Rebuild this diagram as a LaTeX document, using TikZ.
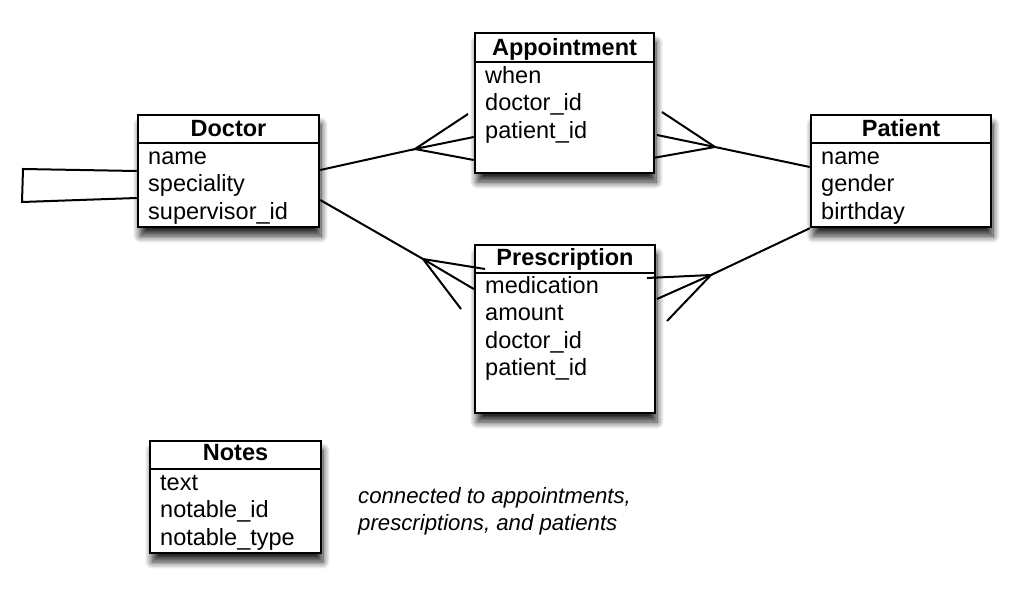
\documentclass[tikz,border=0pt]{standalone}
\usepackage{fontspec}
\setmainfont{Liberation Sans}
\usetikzlibrary{shadows.blur}
\tikzset{
 entity/.style={draw=black, line width=2.5pt, fill=white, inner sep=0pt,
   blur shadow={shadow xshift=2pt, shadow yshift=-9pt, shadow blur radius=7pt, shadow blur steps=10, shadow opacity=85}},
 etitle/.style={anchor=base, inner sep=0pt, font=\fontsize{23.5}{27.5}\selectfont\bfseries},
 field/.style={anchor=base west, inner sep=0pt, font=\fontsize{23.5}{27.5}\selectfont},
 note/.style={anchor=base west, inner sep=0pt, font=\fontsize{22.2}{27.5}\selectfont\itshape},
 rel/.style={line width=2pt},
 hrule/.style={line width=2.2pt},
}
\begin{document}
\begin{tikzpicture}[x=1pt,y=-1pt]
\useasboundingbox (0,0) rectangle (1030,600);

% entity boxes
\node[entity, minimum width=181pt, minimum height=112pt] (doctor) at (228.5,171) {};
\node[entity, minimum width=179pt, minimum height=140pt] (appt) at (564.5,103) {};
\node[entity, minimum width=180pt, minimum height=112pt] (patient) at (901,171) {};
\node[entity, minimum width=180pt, minimum height=168pt] (presc) at (565,329) {};
\node[entity, minimum width=171pt, minimum height=112pt] (notes) at (235.5,497) {};

% header rules
\draw[hrule] (doctor.west |- 0,143) -- (doctor.east |- 0,143);
\draw[hrule] (appt.west |- 0,62) -- (appt.east |- 0,62);
\draw[hrule] (patient.west |- 0,143) -- (patient.east |- 0,143);
\draw[hrule] (presc.west |- 0,273) -- (presc.east |- 0,273);
\draw[hrule] (notes.west |- 0,469) -- (notes.east |- 0,469);

% titles
\node[etitle] (doctorT) at (228.5,136) {Doctor};
\node[etitle] (apptT) at (564.5,55) {Appointment};
\node[etitle] (patientT) at (901,136) {Patient};
\node[etitle] (prescT) at (565,265) {Prescription};
\node[etitle] (notesT) at (235.5,460) {Notes};

% fields
\node[field] (d1) at (148,164) {name};
\node[field] (d2) at (148,191.5) {speciality};
\node[field] (d3) at (148,219) {supervisor\_id};

\node[field] (a1) at (485,83) {when};
\node[field] (a2) at (485,110.5) {doctor\_id};
\node[field] (a3) at (485,138) {patient\_id};

\node[field] (p1) at (821,164) {name};
\node[field] (p2) at (821,191.5) {gender};
\node[field] (p3) at (821,219) {birthday};

\node[field] (r1) at (485,293) {medication};
\node[field] (r2) at (485,320.5) {amount};
\node[field] (r3) at (485,348) {doctor\_id};
\node[field] (r4) at (485,375.5) {patient\_id};

\node[field] (n1) at (160,490) {text};
\node[field] (n2) at (160,517.5) {notable\_id};
\node[field] (n3) at (160,545) {notable\_type};

% note text
\node[note] (note1) at (358,503) {connected to appointments,};
\node[note] (note2) at (358,530.5) {prescriptions, and patients};

% self relation of Doctor
\coordinate (loopA) at (23,169);
\coordinate (loopB) at (22,202);
\draw[rel] (doctor.west |- 0,171) -- (loopA) -- (loopB) -- (doctor.west |- 0,198);

% Doctor - Appointment
\coordinate (daF) at (415,149);
\coordinate (daP1) at (468,114);
\draw[rel] (doctor.east |- 0,170) -- (daF);
\draw[rel] (daP1) -- (daF) -- (appt.west |- 0,137);
\draw[rel] (daF) -- (appt.west |- 0,160);

% Appointment - Patient
\coordinate (apF) at (715,147);
\coordinate (apP1) at (662,112);
\coordinate (apP2) at (657,135);
\coordinate (apP3) at (653,158);
\draw[rel] (patient.west |- 0,167) -- (apF);
\draw[rel] (apP1) -- (apF) -- (apP3);
\draw[rel] (apP2) -- (apF);

% Doctor - Prescription
\coordinate (dpF) at (423,259);
\coordinate (dpP1) at (485,269);
\coordinate (dpP3) at (461,309);
\draw[rel] (doctor.east |- 0,200) -- (dpF);
\draw[rel] (dpP1) -- (dpF) -- (dpP3);
\draw[rel] (dpF) -- (presc.west |- 0,289);

% Prescription - Patient
\coordinate (ppF) at (711,275);
\coordinate (ppP1) at (647,278);
\coordinate (ppP2) at (657,299);
\coordinate (ppP3) at (667,321);
\draw[rel] (patient.south west) -- (ppF);
\draw[rel] (ppP1) -- (ppF) -- (ppP3);
\draw[rel] (ppP2) -- (ppF);
\end{tikzpicture}
\end{document}
